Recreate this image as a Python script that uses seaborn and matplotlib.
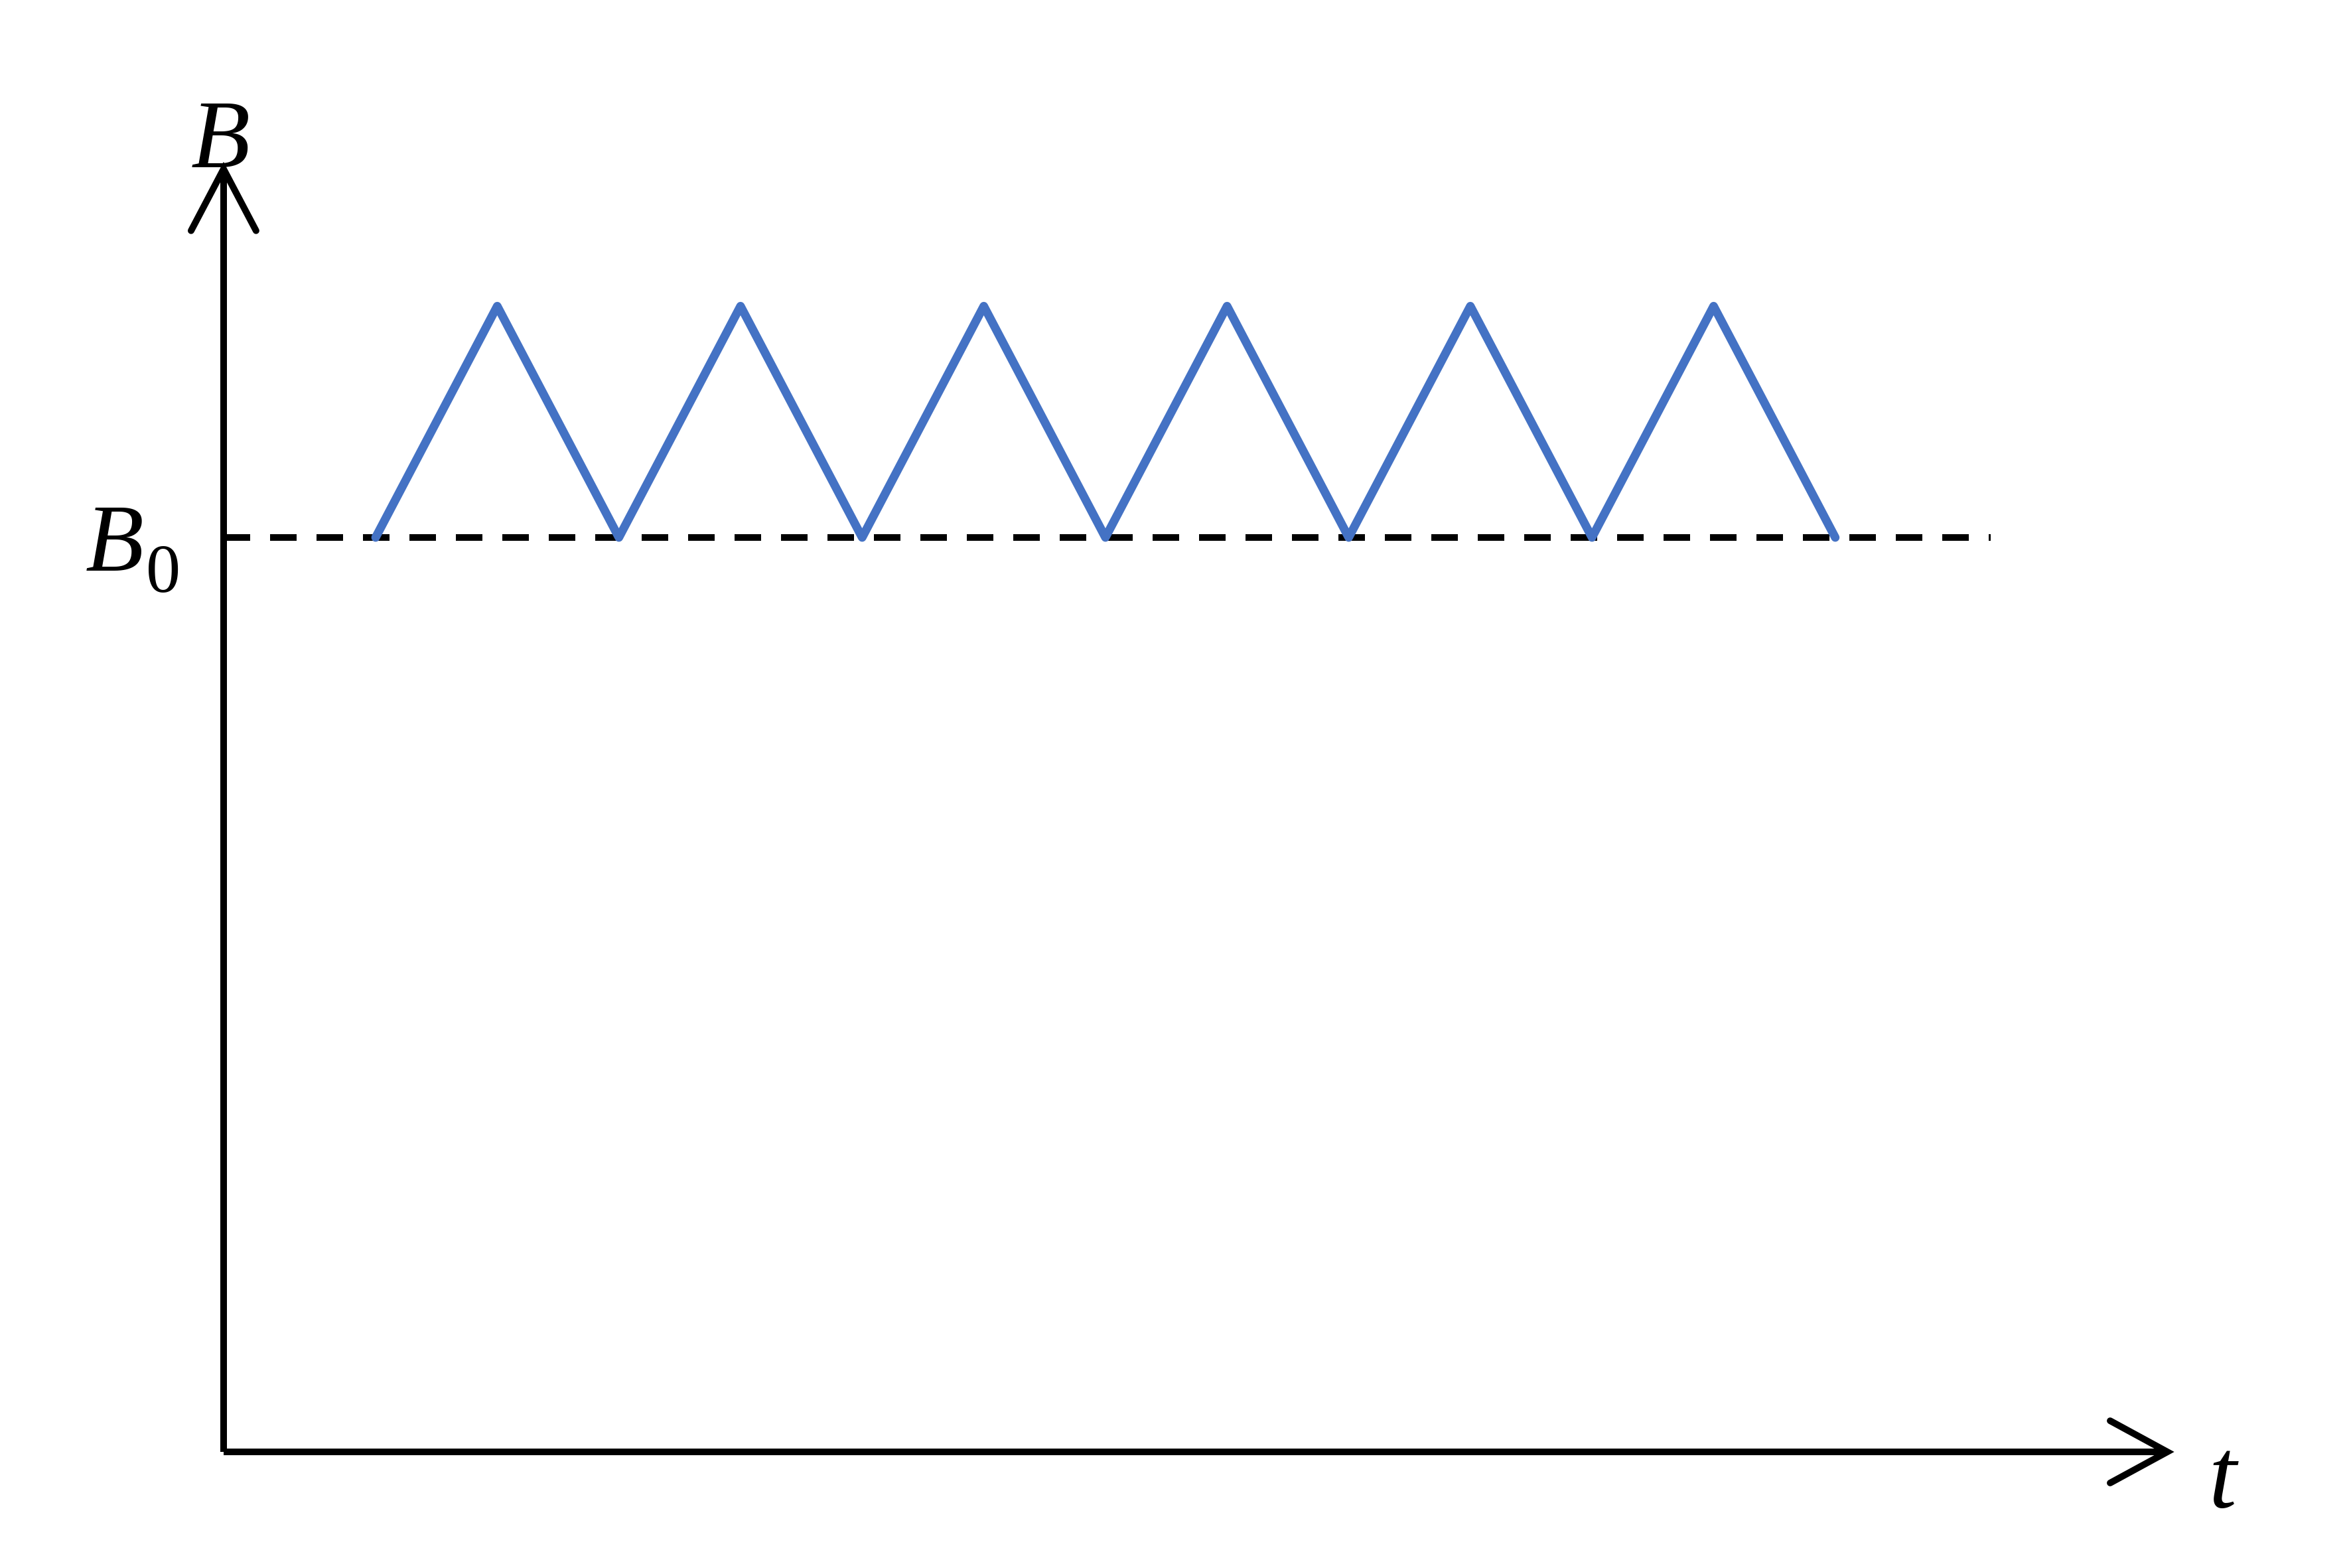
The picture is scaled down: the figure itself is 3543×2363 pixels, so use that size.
import numpy as np
import pandas as pd
import matplotlib
matplotlib.use("Agg")
import matplotlib.pyplot as plt
import seaborn as sns

# ---- data ----
t_vertices = [1.25, 2.25, 3.25, 4.25, 5.25, 6.25, 7.25, 8.25, 9.25, 10.25, 11.25, 12.25, 13.25]
B_vertices = [1.0, 1.253, 1.0, 1.253, 1.0, 1.253, 1.0, 1.253, 1.0, 1.253, 1.0, 1.253, 1.0]
B0_level = 1.0
dash_t_end = 14.53
t_axis_end = 15.98
B_axis_end = 1.403
label_y = "B"
label_y0_main = "B"
label_y0_sub = "0"
label_x = "t"

sns.set_style("white")
plt.rcParams["font.family"] = ["Liberation Serif", "DejaVu Sans"]
plt.rcParams["text.color"] = "black"

fig = plt.figure(figsize=(3543 / 300, 2363 / 300), dpi=300)
ax = fig.add_axes([0, 0, 1, 1])
ax.set_xlim(-1.838, 17.49)
ax.set_ylim(-0.127, 1.5878)
ax.axis("off")

df = pd.DataFrame({"t": t_vertices, "B": B_vertices})

# dashed B0 line
ax.plot([0, dash_t_end], [B0_level, B0_level], color="black", lw=2.4,
        linestyle=(0, (4, 3)), dash_capstyle="butt", zorder=2)

# triangle wave
sns.lineplot(data=df, x="t", y="B", ax=ax, color="#4472C4", lw=3.1,
             sort=False, zorder=3)

# axes
ax.plot([0, 0], [0, B_axis_end], color="black", lw=2.4, solid_capstyle="butt", zorder=4)
ax.plot([0, t_axis_end], [0, 0], color="black", lw=2.4, solid_capstyle="butt", zorder=4)

# arrow heads (open)
wy_dx, wy_dy = 0.267, 0.0675
ax.plot([-wy_dx, 0, wy_dx], [B_axis_end - wy_dy, B_axis_end, B_axis_end - wy_dy],
        color="black", lw=2.4, solid_capstyle="round", solid_joinstyle="miter", zorder=4)
wx_dx, wx_dy = 0.47, 0.034
ax.plot([t_axis_end - wx_dx, t_axis_end, t_axis_end - wx_dx], [wx_dy, 0, -wx_dy],
        color="black", lw=2.4, solid_capstyle="round", solid_joinstyle="miter", zorder=4)

# labels
ax.text(-0.025, 1.405, label_y, fontsize=35, fontstyle="italic",
        ha="center", va="baseline", color="black")
ax.text(-0.655, 0.9637, label_y0_main, fontsize=34.5, fontstyle="italic",
        ha="right", va="baseline", color="black")
ax.text(-0.64, 0.9405, label_y0_sub, fontsize=25, ha="left", va="baseline", color="black")
ax.text(16.32, -0.061, label_x, fontsize=36, fontstyle="italic",
        ha="left", va="baseline", color="black")

fig.savefig("out.png", dpi=300, facecolor="white")
